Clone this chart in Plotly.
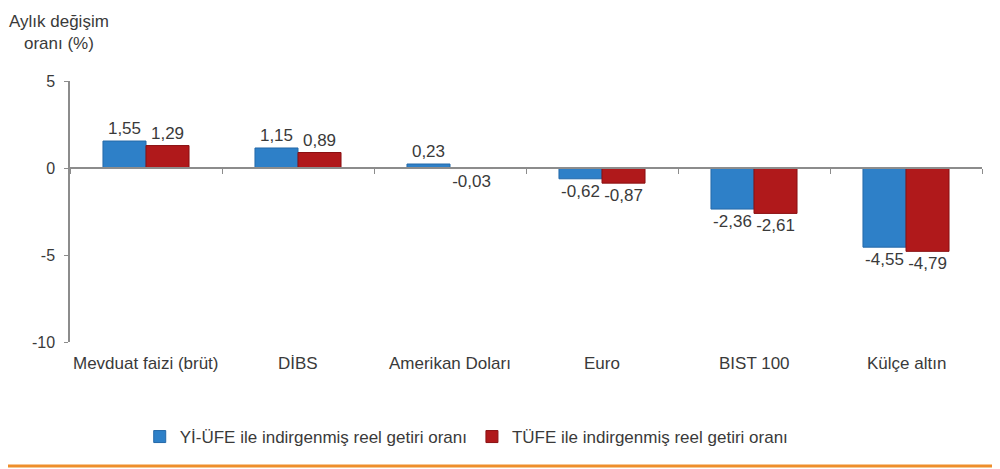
import plotly.graph_objects as go

categories = ["Mevduat faizi (brüt)", "DİBS", "Amerikan Doları", "Euro", "BIST 100", "Külçe altın"]
yi_ufe = [1.55, 1.15, 0.23, -0.62, -2.36, -4.55]
tufe = [1.29, 0.89, -0.03, -0.87, -2.61, -4.79]
y_ticks = [5, 0, -5, -10]

font_main = "Liberation Sans, Arial, sans-serif"
grey = "#3a3a3a"
axis_grey = "#8c8c8c"
pos = list(range(len(categories)))

fig = go.Figure()
fig.add_trace(go.Bar(x=pos, y=yi_ufe, name="Yİ-ÜFE ile indirgenmiş reel getiri oranı",
                     marker=dict(color="#2E80C8", line=dict(color="#2468A8", width=1)),
                     texttemplate="%{y:.2f}", textposition="outside", cliponaxis=False,
                     textfont=dict(size=17, color=grey)))
fig.add_trace(go.Bar(x=pos, y=tufe, name="TÜFE ile indirgenmiş reel getiri oranı",
                     marker=dict(color="#B0191B", line=dict(color="#8A1012", width=1)),
                     texttemplate="%{y:.2f}", textposition="outside", cliponaxis=False,
                     textfont=dict(size=17, color=grey)))

# page body has an 8px margin, so the figure is a bit smaller than the window
fig.update_layout(
    width=984, height=461,
    margin=dict(l=62, r=10, t=73, b=127),
    plot_bgcolor="white", paper_bgcolor="white",
    separators=",.",
    barmode="group", bargap=0.434, bargroupgap=0,
    font=dict(family=font_main, size=17, color=grey),
    showlegend=True,
    legend=dict(orientation="h", x=0.435, xanchor="center", y=-0.364, yanchor="middle",
                font=dict(size=17, color=grey), itemwidth=30),
    # bar axis drawn at y=0 with ticks between categories
    xaxis=dict(range=[-0.5, 5.5], anchor="free", position=2 / 3, showline=True,
               linecolor=axis_grey, linewidth=1.5, ticks="outside", ticklen=5,
               tickcolor=axis_grey, tickvals=[i + 0.5 for i in range(-1, 6)],
               showticklabels=False, showgrid=False, zeroline=False),
    yaxis=dict(range=[-10, 5], tickmode="array", tickvals=y_ticks,
               ticktext=[str(v) for v in y_ticks], showline=True, linecolor=axis_grey,
               linewidth=1.5, ticks="outside", ticklen=4, tickcolor=axis_grey,
               ticklabelstandoff=6, showgrid=False, zeroline=False,
               tickfont=dict(size=16, color=grey)),
)

# category labels along the bottom
for i, cat in enumerate(categories):
    fig.add_annotation(text=cat, x=i, xref="x", y=-0.084, yref="paper",
                       showarrow=False, yanchor="middle",
                       font=dict(size=17, color=grey))

fig.add_annotation(text="Aylık değişim<br>oranı (%)", xref="paper", yref="paper",
                   x=-0.012, y=1.272, xanchor="center", yanchor="top", showarrow=False,
                   font=dict(size=17, color=grey), align="center")

fig.add_shape(type="line", xref="paper", yref="paper", x0=-62 / 912, x1=1 + 10 / 912,
              y0=-0.475, y1=-0.475, line=dict(color="#EE8E2A", width=3))

fig.write_html("out.html")
